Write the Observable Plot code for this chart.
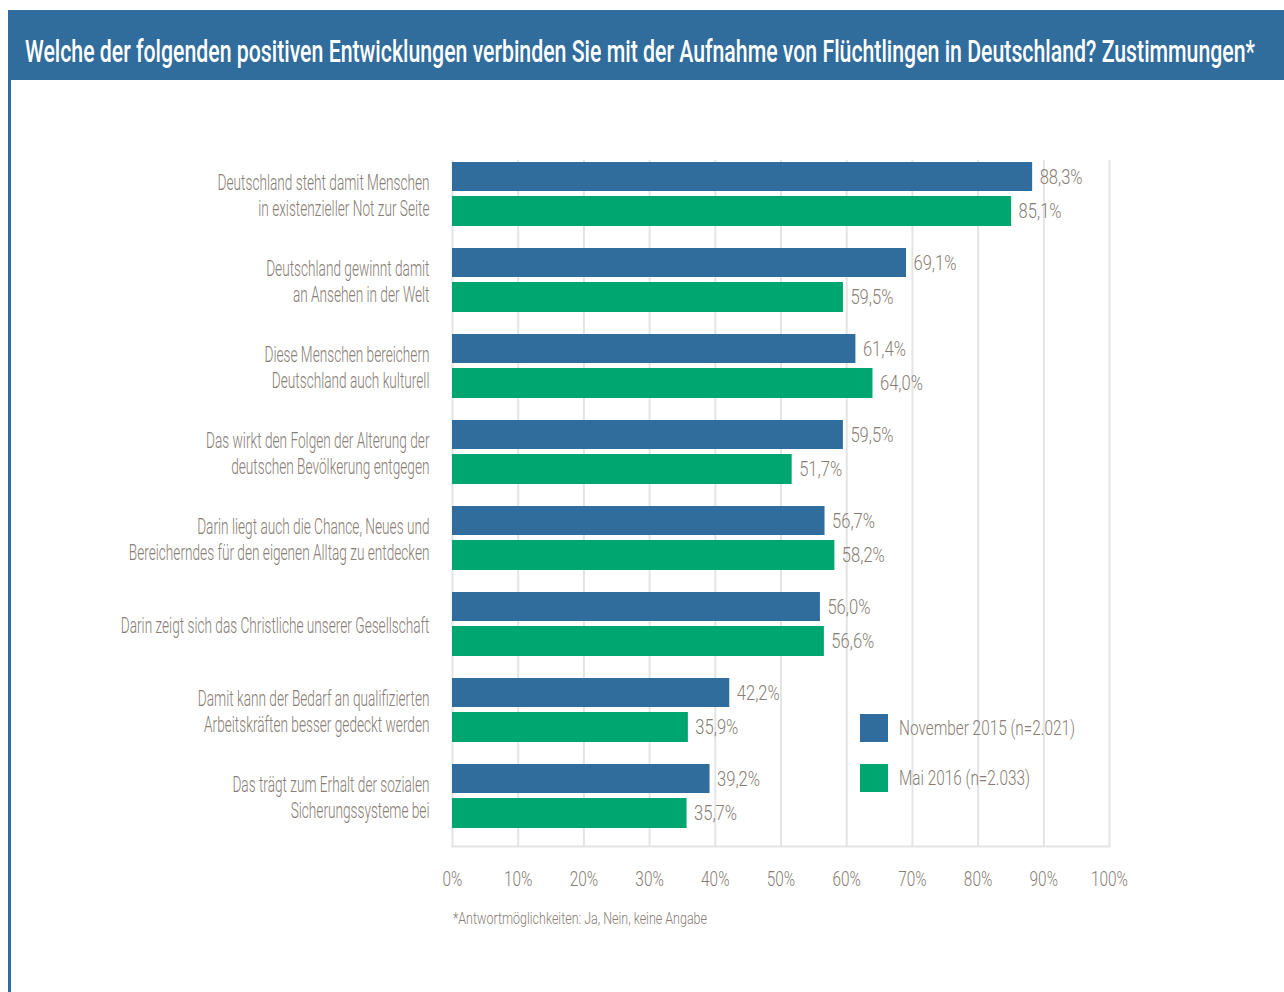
<!DOCTYPE html>
<html>
<head>
<meta charset="utf-8">
<script src="https://cdn.jsdelivr.net/npm/d3@7"></script>
<script src="https://cdn.jsdelivr.net/npm/@observablehq/plot@0.6"></script>
<style>
  html, body { margin: 0; padding: 0; background: #fff; }
  body { width: 1284px; height: 992px; position: relative; overflow: hidden; font-family: Roboto, sans-serif; }
  #titlebar { position: absolute; left: 8px; top: 10px; width: 1276px; height: 70px; background: #306c9c; }
  #title { position: absolute; left: 25px; top: 16px; height: 70px; line-height: 70px; color: #fff; font-size: 32px; font-weight: 500; white-space: nowrap; transform-origin: 0 50%; }
  #leftline { position: absolute; left: 8px; top: 80px; width: 3px; height: 912px; background: #306c9c; }
  #chart { position: absolute; left: 0; top: 90px; }
  #legend { position: absolute; left: 860px; top: 714px; color: #877d75; font-size: 20px; font-weight: 300; }
  .item { display: flex; align-items: center; height: 28px; margin-bottom: 22px; }
  .sw { width: 28px; height: 28px; margin-right: 11px; flex: none; }
  .lab { display: inline-block; white-space: nowrap; transform-origin: 0 50%; }
  #note { position: absolute; left: 453px; top: 908px; color: #877d75; font-size: 17px; font-weight: 300; white-space: nowrap; transform-origin: 0 50%; }
</style>
</head>
<body>
<div id="titlebar"></div>
<div id="title"></div>
<div id="leftline"></div>
<div id="chart"></div>
<div id="legend"></div>
<div id="note"></div>
<script>
const titleText = "Welche der folgenden positiven Entwicklungen verbinden Sie mit der Aufnahme von Flüchtlingen in Deutschland? Zustimmungen*";
const noteText = "*Antwortmöglichkeiten: Ja, Nein, keine Angabe";
const categories = [
  "Deutschland steht damit Menschen\nin existenzieller Not zur Seite",
  "Deutschland gewinnt damit\nan Ansehen in der Welt",
  "Diese Menschen bereichern\nDeutschland auch kulturell",
  "Das wirkt den Folgen der Alterung der\ndeutschen Bevölkerung entgegen",
  "Darin liegt auch die Chance, Neues und\nBereicherndes für den eigenen Alltag zu entdecken",
  "Darin zeigt sich das Christliche unserer Gesellschaft",
  "Damit kann der Bedarf an qualifizierten\nArbeitskräften besser gedeckt werden",
  "Das trägt zum Erhalt der sozialen\nSicherungssysteme bei"
];
const seriesNames = ["November 2015 (n=2.021)", "Mai 2016 (n=2.033)"];
const seriesColors = ["#306c9c", "#00a66f"];
const nov2015 = [88.3, 69.1, 61.4, 59.5, 56.7, 56.0, 42.2, 39.2];
const mai2016 = [85.1, 59.5, 64.0, 51.7, 58.2, 56.6, 35.9, 35.7];
const xTicks = [0, 10, 20, 30, 40, 50, 60, 70, 80, 90, 100];

const ctx = document.createElement("canvas").getContext("2d");
function measure(text, size, weight) {
  ctx.font = `${weight || 400} ${size}px Roboto`;
  return ctx.measureText(text).width;
}
// horizontal condensation factors (the original uses a condensed typeface)
const sTitle = 1230 / measure(titleText, 32, 500);
const sCat = 309 / measure("Darin zeigt sich das Christliche unserer Gesellschaft", 22, 300);
const sVal = 43 / measure("88,3%", 21, 300);
const sTick = 37 / measure("100%", 21, 300);
const sLeg = 176 / measure(seriesNames[0], 20, 300);
const sNote = 254 / measure(noteText, 17, 300);

const title = document.getElementById("title");
title.textContent = titleText;
title.style.transform = `scaleX(${sTitle})`;
const note = document.getElementById("note");
note.textContent = noteText;
note.style.transform = `scaleX(${sNote})`;

const novData = categories.map((c, i) => ({category: c, value: nov2015[i]}));
const maiData = categories.map((c, i) => ({category: c, value: mai2016[i]}));
const fmt = v => d3.format(".1f")(v).replace(".", ",") + "%";
const gray = "#877d75";

const chart = Plot.plot({
  width: 1284,
  height: 860,
  marginLeft: 452,
  marginRight: 175,
  marginTop: 70,
  marginBottom: 104,
  style: {fontFamily: "Roboto, sans-serif", fontSize: "20px", fontWeight: 300, color: gray, background: "transparent"},
  x: {domain: [0, 100], ticks: xTicks, tickFormat: d => d + "%"},
  y: {domain: categories, paddingInner: 0.2529, paddingOuter: 0.069, align: 0.083},
  marks: [
    Plot.ruleX(xTicks, {stroke: "#e4e4e4", strokeWidth: 2}),
    Plot.frame({anchor: "bottom", stroke: "#e4e4e4", strokeWidth: 2}),
    Plot.barX(novData, {x: "value", y: "category", fill: seriesColors[0], insetBottom: 35}),
    Plot.barX(maiData, {x: "value", y: "category", fill: seriesColors[1], insetTop: 34}),
    Plot.text(novData, {x: "value", y: "category", text: d => fmt(d.value), dx: 7, dy: -17, textAnchor: "start", fill: gray, fontSize: 21}),
    Plot.text(maiData, {x: "value", y: "category", text: d => fmt(d.value), dx: 7, dy: 17, textAnchor: "start", fill: gray, fontSize: 21}),
    Plot.axisY({tickSize: 0, tickPadding: 23, lineHeight: 1.18, fontSize: 22, label: null}),
    Plot.axisX({ticks: xTicks, tickSize: 0, tickPadding: 25, fontSize: 21, label: null, tickFormat: d => d + "%"})
  ]
});
document.getElementById("chart").appendChild(chart);

function condense(selector, s) {
  chart.querySelectorAll(selector).forEach(el => {
    const t = el.getAttribute("transform") || "";
    const x = el.getAttribute("x");
    if (x !== null && +x !== 0) el.setAttribute("x", +x / s);
    el.setAttribute("transform", `${t} scale(${s},1)`);
  });
}
condense('g[aria-label="y-axis tick label"] text', sCat);
condense('g[aria-label="x-axis tick label"] text', sTick);
condense('g[aria-label="text"] text', sVal);

const legend = document.getElementById("legend");
seriesNames.forEach((name, i) => {
  const item = document.createElement("div");
  item.className = "item";
  const sw = document.createElement("div");
  sw.className = "sw";
  sw.style.background = seriesColors[i];
  const lab = document.createElement("span");
  lab.className = "lab";
  lab.textContent = name;
  lab.style.transform = `scaleX(${sLeg})`;
  item.appendChild(sw);
  item.appendChild(lab);
  legend.appendChild(item);
});
</script>
</body>
</html>
